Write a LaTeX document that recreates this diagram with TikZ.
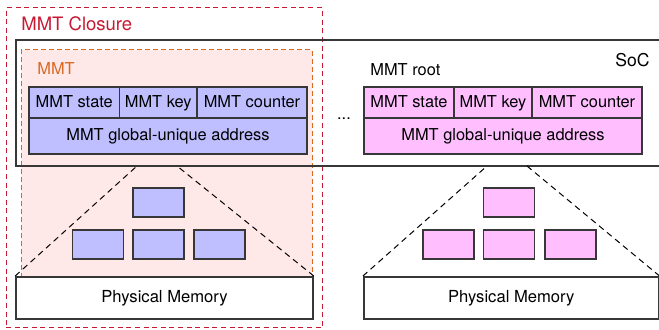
\documentclass[tikz,border=0pt]{standalone}
\usepackage{fontspec}
\setmainfont{TeX Gyre Heros}
\definecolor{closurered}{RGB}{200,25,50}
\definecolor{mmtorange}{RGB}{215,105,35}
\definecolor{mmtpink}{RGB}{255,232,232}
\definecolor{rootblue}{RGB}{191,191,255}
\definecolor{rootpink}{RGB}{255,191,255}
\definecolor{edgegray}{RGB}{55,55,55}

\begin{document}
\begin{tikzpicture}[x=0.5pt, y=-0.5pt,
  cell/.style={rectangle, draw=edgegray, line width=0.9pt, inner sep=0pt, font=\fontsize{8.2}{10}\selectfont, text height=6.2pt, text depth=1.6pt, minimum height=15.5pt},
  addr/.style={cell, minimum width=139pt, minimum height=18pt},
  tree/.style={rectangle, draw=edgegray, line width=0.9pt, minimum width=25.5pt, minimum height=14.5pt, inner sep=0pt},
  mem/.style={rectangle, draw=edgegray, line width=0.9pt, fill=white, minimum height=21pt, font=\fontsize{8.3}{10}\selectfont},
  lbl/.style={anchor=west, inner sep=0pt, font=\fontsize{8.2}{10}\selectfont},
  spread/.style={dashed, line width=0.5pt, dash pattern=on 3pt off 2.2pt},
]
\useasboundingbox (0,0) rectangle (659,330);

% --- MMT region and closure ---
\node[rectangle, fill=mmtpink, draw=mmtorange, line width=0.5pt, dash pattern=on 2.5pt off 1.5pt, minimum width=145.5pt, minimum height=113.5pt] (mmt) at (166.5,163.5) {};
\node[rectangle, draw=closurered, line width=0.5pt, dash pattern=on 2.5pt off 1.8pt, minimum width=158pt, minimum height=160pt] (closure) at (164,168) {};
\node[lbl, text=closurered, font=\fontsize{9.25}{11}\selectfont] (closurelbl) at (21,24) {MMT Closure};
\node[lbl, text=mmtorange] (mmtlbl) at (37,69) {MMT};

% --- SoC ---
\node[rectangle, draw=edgegray, line width=1pt, minimum width=322pt, minimum height=63pt] (soc) at (337.5,103) {};
\node[anchor=east, inner sep=0pt, font=\fontsize{8.8}{10}\selectfont] (soclbl) at (650,60) {SoC};
\node[lbl] (rootlbl) at (370,70) {MMT root};
\node[inner sep=0pt, font=\fontsize{8.2}{10}\selectfont] (dots) at (344,119) {...};

% --- left MMT (blue) ---
\node[cell, fill=rootblue, minimum width=45.25pt] (stateL) at (74.25,102.5) {MMT state};
\node[cell, fill=rootblue, minimum width=38.75pt] (keyL) at (158.25,102.5) {MMT key};
\node[cell, fill=rootblue, minimum width=55pt] (counterL) at (252,102.5) {MMT counter};
\node[addr, fill=rootblue] (addrL) at (168,136) {MMT global-unique address};

% --- right MMT root (pink) ---
\node[cell, fill=rootpink, minimum width=45pt] (stateR) at (409,102.5) {MMT state};
\node[cell, fill=rootpink, minimum width=39pt] (keyR) at (493,102.5) {MMT key};
\node[cell, fill=rootpink, minimum width=55pt] (counterR) at (587,102.5) {MMT counter};
\node[addr, fill=rootpink] (addrR) at (503,136) {MMT global-unique address};

% --- physical memory ---
\node[mem, minimum width=148.5pt] (memL) at (164.5,298) {Physical Memory};
\node[mem, minimum width=147.5pt] (memR) at (511.25,298) {Physical Memory};

% --- trees ---
\node[tree, fill=rootblue] (topL) at (158.5,202.5) {};
\node[tree, fill=rootblue] (leafL1) at (98,244.5) {};
\node[tree, fill=rootblue] (leafL2) at (158.5,244.5) {};
\node[tree, fill=rootblue] (leafL3) at (219.5,244.5) {};
\node[tree, fill=rootpink] (topR) at (509,202.5) {};
\node[tree, fill=rootpink] (leafR1) at (448.5,244.5) {};
\node[tree, fill=rootpink] (leafR2) at (509,244.5) {};
\node[tree, fill=rootpink] (leafR3) at (570.5,244.5) {};

\coordinate (apexLa) at (137,166);
\coordinate (apexLb) at (177,166);
\coordinate (apexRa) at (487,166);
\coordinate (apexRb) at (527,166);

\draw[spread] (memL.north west) -- (apexLa);
\draw[spread] (memL.north east) -- (apexLb);
\draw[spread] (memR.north west) -- (apexRa);
\draw[spread] (memR.north east) -- (apexRb);
\end{tikzpicture}
\end{document}
